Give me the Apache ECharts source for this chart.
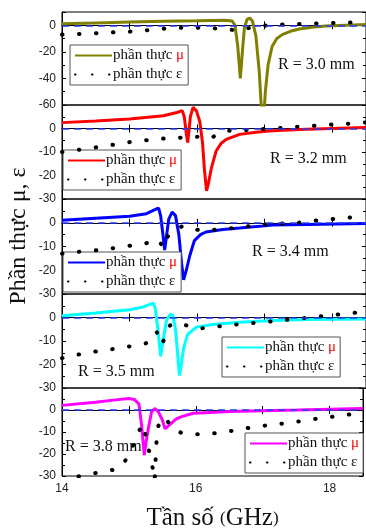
<!DOCTYPE html>
<html>
<head>
<meta charset="utf-8">
<script src="https://cdn.jsdelivr.net/npm/echarts@6/dist/echarts.min.js"></script>
<style>
html,body{margin:0;padding:0;background:#fff}
#chart{width:366px;height:532px}
</style>
</head>
<body>
<div id="chart"></div>
<script>
// tần số (GHz) / giá trị
var mu30 = [[14.0,1.2],[14.5,1.8],[15.0,2.4],[15.5,3.0],[16.0,3.4],[16.4,3.8],[16.52,3.2],[16.56,0],[16.6,-15],[16.64,-40],[16.67,-20],[16.7,-2],[16.74,4.5],[16.78,5.5],[16.82,3],[16.87,-8],[16.92,-35],[16.96,-70],[16.98,-75],[17.01,-50],[17.05,-30],[17.11,-16],[17.18,-10],[17.26,-7],[17.38,-4.5],[17.51,-2.8],[17.7,-1.4],[17.9,-0.6],[18.2,0],[18.5,0.5]];
var eps30 = [[14.0,-7],[14.25,-6.5],[14.51,-6],[14.76,-5.3],[15.0,-4.8],[15.25,-3.8],[15.49,-2.6],[15.74,-1.9],[16.01,-1.8],[16.26,-2.3],[16.45,-3],[16.6,-4],[16.7,-3],[16.8,-1.5],[16.92,-0.7],[17.17,0.5],[17.41,0.8],[17.66,1.2],[17.92,1.6],[18.17,1.9],[18.5,2.4]];

var mu32 = [[14.0,2.5],[14.5,3.2],[15.0,4.0],[15.5,5.4],[15.7,6.8],[15.78,7.6],[15.81,5],[15.84,-2],[15.86,-6],[15.88,-1],[15.9,5],[15.94,9],[15.99,7.5],[16.04,3],[16.08,-6],[16.11,-18],[16.14,-26.5],[16.17,-23],[16.21,-17],[16.28,-9.7],[16.35,-6.5],[16.43,-4.6],[16.63,-2.5],[16.9,-1.5],[17.12,-1],[17.61,-0.3],[18.0,0],[18.5,0.4]];
var eps32 = [[14.0,-10],[14.27,-9],[14.51,-8],[14.76,-6.9],[15.0,-5.8],[15.25,-5],[15.49,-4.3],[15.76,-3.9],[15.9,-3.7],[16.01,-3.5],[16.1,-4],[16.2,-4.2],[16.3,-2.5],[16.43,-1],[16.7,-0.7],[16.95,-0.3],[17.19,0.1],[17.44,0.7],[17.68,1],[17.93,1.6],[18.17,1.9],[18.5,2.6]];

var mu34 = [[14.0,1.1],[14.5,1.9],[15.0,2.7],[15.25,3.8],[15.4,5.8],[15.43,6.2],[15.46,3],[15.49,-4],[15.52,-11.5],[15.55,-5],[15.58,1.5],[15.63,4.5],[15.68,3],[15.73,-5],[15.77,-17],[15.8,-24],[15.84,-20],[15.89,-14],[15.96,-7.5],[16.05,-5],[16.13,-3.9],[16.38,-2.8],[16.63,-2.2],[17.12,-1],[17.61,-0.7],[18.5,-0.3]];
var eps34 = [[14.0,-13],[14.25,-12.2],[14.51,-11.6],[14.76,-10.7],[15.0,-9.7],[15.25,-8.6],[15.4,-7],[15.47,-9],[15.52,-10.5],[15.56,-6],[15.62,-3.9],[15.79,-1.3],[15.9,-2.5],[16.06,-3.2],[16.31,-2.9],[16.55,-2.2],[16.8,-1.3],[17.04,-0.7],[17.29,-0.3],[17.54,0.1],[17.78,1],[18.03,1.6],[18.27,2.2],[18.5,2.6]];

var mu35 = [[14.0,0.7],[14.5,1.9],[15.0,3.3],[15.2,4.5],[15.35,6.1],[15.38,4],[15.42,-5],[15.46,-16.5],[15.5,-9],[15.55,-1],[15.6,1.3],[15.64,1],[15.68,-5],[15.71,-15],[15.74,-24.7],[15.77,-19],[15.8,-13],[15.86,-7.2],[15.99,-4.1],[16.23,-3],[16.63,-2],[17.12,-1.3],[17.61,-0.8],[18.5,-0.6]];
var eps35 = [[14.0,-17.3],[14.27,-15.6],[14.51,-14.4],[14.76,-13.4],[15.0,-12.3],[15.24,-11],[15.33,-9],[15.4,-6],[15.44,-9],[15.47,-11.5],[15.53,-8.6],[15.59,-3.5],[15.7,-2.3],[15.8,-3],[16.0,-4.8],[16.25,-4],[16.5,-3.2],[16.75,-2.5],[17.0,-2],[17.25,-1.2],[17.51,-0.5],[17.76,0.3],[18.0,1],[18.25,1.8],[18.5,2.4]];

var mu38 = [[14.0,2.1],[14.5,3.5],[14.8,4.6],[15.0,5.2],[15.08,4.8],[15.15,2.8],[15.19,-7],[15.23,-20.5],[15.26,-14],[15.29,-8.5],[15.34,-0.7],[15.39,0.7],[15.44,-0.8],[15.5,-4.5],[15.54,-8.5],[15.58,-7.5],[15.62,-6.4],[15.71,-4],[15.79,-3],[15.96,-1.5],[16.13,-1.2],[16.52,-0.7],[17.0,-0.3],[17.51,0],[18.5,0.7]];
var eps38 = [[14.0,-32],[14.27,-30],[14.51,-28.6],[14.76,-27.2],[14.9,-25.3],[15.03,-18.8],[15.12,-11.3],[15.21,-6.4],[15.26,-12.7],[15.31,-19.8],[15.36,-27],[15.385,-32],[15.41,-15.6],[15.43,-8.2],[15.48,-4],[15.54,-3.5],[15.6,-6],[15.66,-8.8],[15.78,-10.3],[15.9,-11],[16.13,-11],[16.38,-10.3],[16.65,-8.9],[16.9,-7.5],[17.14,-6.8],[17.39,-5.8],[17.66,-4.7],[17.9,-3.5],[18.15,-2.8],[18.4,-1.5],[18.5,-1.2]];

var muData = [mu30, mu32, mu34, mu35, mu38];
var epsData = [eps30, eps32, eps34, eps35, eps38];
var rLabels = ['R = 3.0 mm', 'R = 3.2 mm', 'R = 3.4 mm', 'R = 3.5 mm', 'R = 3.8 mm'];
var muColors = ['#808000', '#ff0000', '#0000ff', '#00ffff', '#ff00ff'];
var yMin = [-60, -30, -30, -30, -30];
var yStep = [20, 10, 10, 10, 10];
var xTicks = [14, 16, 18];

var chart = echarts.init(document.getElementById('chart'));

var gridTop = [12, 105, 199, 294, 388];
var gridH = [93, 94, 95, 94, 94];
var legendPos = [[70, 45], [63, 150], [63, 252], [222, 337], [245, 433]];
var rPos = [[278, 66], [270, 160], [252, 253], [78, 373], [65, 448]];

var serif = 'Liberation Serif, Times New Roman, serif';
var sans = 'Liberation Sans, Arial, sans-serif';

var grids = [], xAxes = [], yAxes = [], series = [], legends = [], graphics = [];

for (var i = 0; i < 5; i++) {
    grids.push({left: 62, top: gridTop[i], width: 305, height: gridH[i],
        show: true, borderColor: '#000', borderWidth: 1});

    var last = (i === 4);
    var xBase = {
        type: 'value', gridIndex: i, min: 14, max: 18.5, interval: 1,
        axisLine: {lineStyle: {color: '#000', width: 1}},
        axisTick: {inside: true, length: 4, lineStyle: {color: '#000'}},
        splitLine: {show: false}
    };
    xAxes.push(Object.assign({}, xBase, {
        position: 'bottom',
        axisLabel: {show: last, margin: 7, color: '#222', fontSize: 12, fontFamily: sans,
            formatter: function (v) { return xTicks.indexOf(v) >= 0 ? v : ''; }},
        name: last ? '{a|Tần số }{p|(}{a|GHz}{p|)}' : '',
        nameLocation: 'middle', nameGap: 30,
        nameTextStyle: {rich: {
            a: {fontFamily: serif, fontSize: 25, color: '#111'},
            p: {fontFamily: serif, fontSize: 17, color: '#111'}
        }}
    }));
    xAxes.push(Object.assign({}, xBase, {position: 'top', axisLabel: {show: false}}));

    var yBase = {
        type: 'value', gridIndex: i, min: yMin[i], max: 10, interval: yStep[i],
        axisLine: {lineStyle: {color: '#000', width: 1}},
        axisTick: {inside: true, length: 4, lineStyle: {color: '#000'}},
        minorTick: {show: true, splitNumber: 2, length: 3, lineStyle: {color: '#000'}},
        splitLine: {show: false}
    };
    yAxes.push(Object.assign({}, yBase, {
        position: 'left',
        axisLabel: {margin: 6, color: '#222', fontSize: 12, fontFamily: sans,
            formatter: function (v) { return v > 0 ? '' : v; }}
    }));
    yAxes.push(Object.assign({}, yBase, {position: 'right', axisLabel: {show: false}}));

    series.push({
        name: 'mu' + i, type: 'line', xAxisIndex: 2 * i, yAxisIndex: 2 * i,
        data: muData[i], showSymbol: false, symbol: 'none', z: 3,
        lineStyle: {color: muColors[i], width: 3},
        itemStyle: {color: muColors[i]},
        markLine: {
            silent: true, symbol: 'none', label: {show: false},
            lineStyle: {color: '#2a3cf0', type: [7, 5], width: 1.5},
            data: [{yAxis: 0}]
        }
    });
    series.push({
        name: 'eps' + i, type: 'line', xAxisIndex: 2 * i, yAxisIndex: 2 * i,
        data: epsData[i], showSymbol: false, symbol: 'none', z: 4,
        lineStyle: {color: '#000', width: 4, type: [0.5, 16.5], cap: 'round'},
        itemStyle: {color: '#000'}
    });

    legends.push({
        data: ['mu' + i, 'eps' + i],
        orient: 'vertical', left: legendPos[i][0], top: legendPos[i][1],
        backgroundColor: '#fff', borderColor: '#555', borderWidth: 1,
        padding: [3, 4], itemGap: 4, itemWidth: 37, itemHeight: 14,
        selectedMode: false,
        itemStyle: {opacity: 0},
        formatter: function (name) {
            return name.indexOf('mu') === 0 ? '{a|phần thực }{r|μ}' : '{a|phần thực ε}';
        },
        textStyle: {padding: [0, 0, 0, -4], rich: {
            a: {fontFamily: serif, fontSize: 15, color: '#111'},
            r: {fontFamily: serif, fontSize: 15, color: '#ff0000'}
        }}
    });

    graphics.push({
        type: 'text', left: rPos[i][0], top: rPos[i][1] - 9, z: 10,
        style: {text: rLabels[i], font: '16px ' + serif, fill: '#111'}
    });
}

graphics.push({
    type: 'text', x: 19, y: 236, rotation: Math.PI / 2,
    style: {text: 'Phần thực μ, ε', font: '24px ' + serif, fill: '#111',
        align: 'center', verticalAlign: 'middle'}
});

option = {
    backgroundColor: '#fff',
    animation: false,
    grid: grids,
    xAxis: xAxes,
    yAxis: yAxes,
    legend: legends,
    graphic: graphics,
    series: series
};
chart.setOption(option);
</script>
</body>
</html>
